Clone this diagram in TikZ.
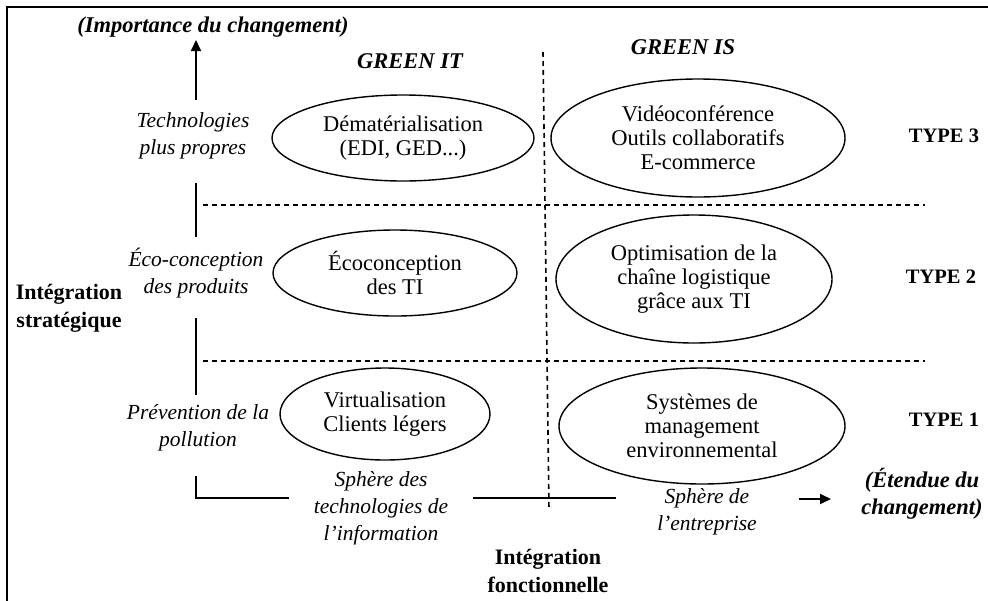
\documentclass[tikz,border=0pt]{standalone}
\usepackage{fontspec}
\setmainfont{Liberation Serif}
\usetikzlibrary{shapes.geometric,arrows.meta}
\begin{document}
\begin{tikzpicture}[x=1pt,y=-1pt,
  oval/.style={draw,ellipse,line width=1.4pt,inner sep=0pt,align=center,font=\fontsize{22.5}{24}\selectfont},
  lab/.style={align=center,font=\fontsize{21.5}{27}\selectfont\itshape},
  boldlab/.style={align=center,font=\fontsize{22}{28}\selectfont\bfseries},
  typelab/.style={font=\fontsize{20.5}{24}\selectfont\bfseries},
  bilab/.style={align=center,font=\fontsize{22.5}{27}\selectfont\bfseries\itshape},
  axisline/.style={line width=1.8pt},
  sepline/.style={dash pattern=on 5pt off 4pt,line width=1.6pt}
]
\useasboundingbox (0,0) rectangle (988,600);
\fill[white] (0,0) rectangle (988,600);
% frame
\coordinate (fTL) at (7,7);
\coordinate (fTR) at (990,7);
\coordinate (fBL) at (7,602);
\draw[line width=1.5pt] (fTR) -- (fTL) -- (fBL);

% titles
\node[bilab] (imp) at (213,27) {(Importance du changement)};
\node[bilab] (git) at (410,61) {GREEN IT};
\node[bilab] (gis) at (683,47) {GREEN IS};
\node[bilab] (etd) at (922,494) {(Étendue du\\changement)};
\node[boldlab] (istrat) at (69,308) {Intégration\\stratégique};
\node[boldlab] (ifonc) at (548,571) {Intégration\\fonctionnelle};

% left labels
\node[lab] (l3) at (193,136) {Technologies\\plus propres};
\node[lab] (l2) at (196,273) {Éco-conception\\des produits};
\node[lab] (l1) at (198,428) {Prévention de la\\pollution};

% bottom labels
\node[lab] (sti) at (381,508) {Sphère des\\technologies de\\l’information};
\node[lab] (sen) at (707,512) {Sphère de\\l’entreprise};

% type labels
\node[typelab] (t3) at (944,136) {TYPE 3};
\node[typelab] (t2) at (941,277) {TYPE 2};
\node[typelab] (t1) at (944,420) {TYPE 1};

% ellipses
\node[oval,minimum width=262pt,minimum height=86pt] (e1) at (403,138) {Dématérialisation\\(EDI, GED...)};
\node[oval,minimum width=294pt,minimum height=118pt] (e2) at (698,138) {Vidéoconférence\\Outils collaboratifs\\E-commerce};
\node[oval,minimum width=244pt,minimum height=86pt] (e3) at (395,273) {Écoconception\\des TI};
\node[oval,minimum width=276pt,minimum height=128pt] (e4) at (694,279) {Optimisation de la\\chaîne logistique\\grâce aux TI};
\node[oval,minimum width=210pt,minimum height=92pt] (e5) at (385,414) {Virtualisation\\Clients légers};
\node[oval,minimum width=286pt,minimum height=116pt] (e6) at (702,426) {Systèmes de\\management\\environnemental};

% separators
\coordinate (h1a) at (203,205); \coordinate (h1b) at (925,205);
\coordinate (h2a) at (203,361); \coordinate (h2b) at (925,361);
\coordinate (va) at (543,52); \coordinate (vb) at (549,510);
\draw[sepline] (h1a) -- (h1b);
\draw[sepline] (h2a) -- (h2b);
\draw[sepline] (va) -- (vb);

% vertical axis
\coordinate (a0) at (196,100); \coordinate (a1) at (196,40);
\coordinate (b0) at (196,183); \coordinate (b1) at (196,237);
\coordinate (c0) at (196,318); \coordinate (c1) at (196,395);
\coordinate (d0) at (196,476); \coordinate (d1) at (196,498); \coordinate (d2) at (289,498);
\coordinate (g0) at (473,498); \coordinate (g1) at (616,498);
\coordinate (k0) at (799,499); \coordinate (k1) at (831,499);
\draw[axisline,-{Triangle[length=11pt,width=10pt]}] (a0) -- (a1);
\draw[axisline] (b0) -- (b1);
\draw[axisline] (c0) -- (c1);
\draw[axisline] (d0) -- (d1) -- (d2);
\draw[axisline] (g0) -- (g1);
\draw[axisline,-{Triangle[length=11pt,width=10pt]}] (k0) -- (k1);
\end{tikzpicture}
\end{document}
